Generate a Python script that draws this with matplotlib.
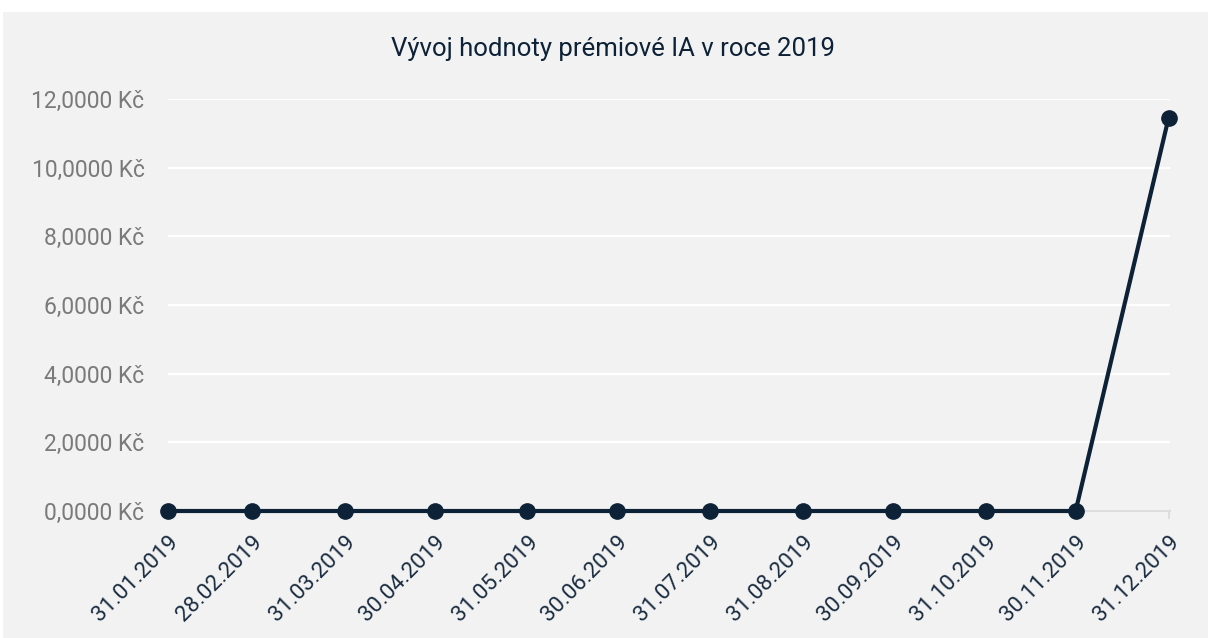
import matplotlib
matplotlib.use("Agg")
import matplotlib.pyplot as plt
from matplotlib.patches import Rectangle
import pandas as pd

dates = ["2019-01-31", "2019-02-28", "2019-03-31", "2019-04-30", "2019-05-31", "2019-06-30",
         "2019-07-31", "2019-08-31", "2019-09-30", "2019-10-31", "2019-11-30", "2019-12-31"]
values = [0, 0, 0, 0, 0, 0, 0, 0, 0, 0, 0, 11.44]
yticks = [0, 2, 4, 6, 8, 10, 12]
title = "Vývoj hodnoty prémiové IA v roce 2019"

x = pd.to_datetime(dates)

plt.rcParams['font.family'] = ['Roboto', 'DejaVu Sans']

W, H = 1208, 638
fig = plt.figure(figsize=(W / 100, H / 100), dpi=100, facecolor="white")
fig.patches.append(Rectangle((3 / W, 0), 1, (H - 12) / H, transform=fig.transFigure,
                             facecolor="#f2f2f2", edgecolor="none", zorder=-10))

ax = fig.add_axes([168 / W, (H - 511) / H, (1170 - 168) / W, (511 - 99) / H])
ax.set_facecolor("none")

ax.plot(x, values, color="#0d2137", linewidth=3.0, marker="o", markersize=11,
        solid_capstyle="round", zorder=5, clip_on=False)

ax.set_ylim(0, 12)
ax.set_xlim(x[0], pd.Timestamp("2019-12-31 12:00"))
ax.set_yticks(yticks)
ax.set_yticklabels([f"{v:.4f}".replace(".", ",") + " Kč" for v in yticks],
                   fontsize=16.5, color="#7a7a7a")
ax.grid(axis="y", color="white", linewidth=1.6)
ax.set_axisbelow(True)
ax.set_xticks(x)
ax.set_xticklabels([d.strftime("%d.%m.%Y") for d in x], rotation=45, ha="right",
                   rotation_mode="anchor", fontsize=16, color="#1a2c40")
for s in ["top", "right", "left"]:
    ax.spines[s].set_visible(False)
ax.spines["bottom"].set_color("#dddddd")
ax.spines["bottom"].set_linewidth(1.5)
ax.tick_params(axis="y", length=0, pad=17)
ax.tick_params(axis="x", length=6, width=1.5, color="#dddddd", pad=9)

fig.text(613 / W, 1 - 49 / H, title, ha="center", va="center", fontsize=18.5,
         color="#0d2137")

fig.savefig("out.png", dpi=100, facecolor=fig.get_facecolor())
